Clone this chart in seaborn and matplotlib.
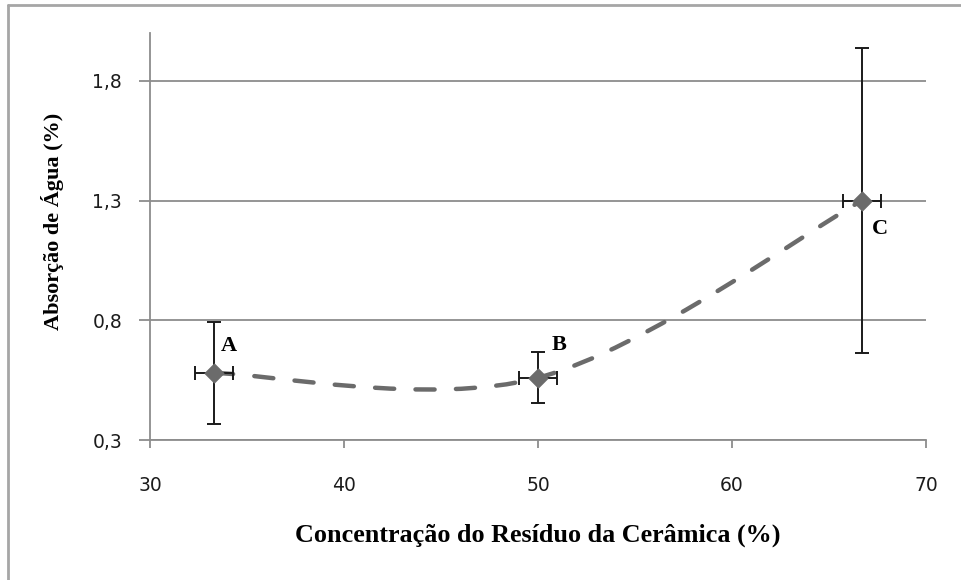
import numpy as np
import pandas as pd
import matplotlib
matplotlib.use("Agg")
import matplotlib.pyplot as plt
import seaborn as sns
from matplotlib.path import Path
from matplotlib.patches import PathPatch
from matplotlib.lines import Line2D

# Dados: absorção de água em função da concentração do resíduo
amostras = ["A", "B", "C"]
concentracao = [33.3, 50.0, 66.7]
absorcao = [0.58, 0.56, 1.30]
erro_absorcao = [0.214, 0.107, 0.636]
erro_concentracao = [1.0, 1.0, 1.0]

x_ticks = [30, 40, 50, 60, 70]
y_ticks = [0.3, 0.8, 1.3, 1.8]
y_tick_labels = ["0,3", "0,8", "1,3", "1,8"]

df = pd.DataFrame({"conc": concentracao, "abs": absorcao, "amostra": amostras})

sns.set_theme(style="white")
plt.rcParams["font.family"] = ["DejaVu Sans"]

GRID = "#8c8c8c"
SERIE = "#6b6b6b"
TEXTO = "#1c1c1c"

fig = plt.figure(figsize=(9.61, 5.80), dpi=100)
ax = fig.add_axes([150 / 961, 1 - 440 / 580, 776 / 961, 407 / 580])


def curva_suave(xs, ys):
    """Curva de Bézier suavizada passando pelos pontos (estilo planilha)."""
    pts = np.column_stack([xs, ys]).astype(float)
    n = len(pts)
    verts = [pts[0]]
    codes = [Path.MOVETO]
    for i in range(n - 1):
        p_ant = pts[i - 1] if i > 0 else pts[i]
        p0, p1 = pts[i], pts[i + 1]
        p_prox = pts[i + 2] if i + 2 < n else p1
        c1 = p0 + (p1 - p_ant) / 6.0
        c2 = p1 - (p_prox - p0) / 6.0
        verts += [c1, c2, p1]
        codes += [Path.CURVE4] * 3
    return Path(verts, codes)


# linha tracejada suavizada
linha = PathPatch(curva_suave(df["conc"], df["abs"]), fill=False,
                  edgecolor=SERIE, lw=3.2, linestyle=(0, (4.3, 4.8)),
                  capstyle="round", zorder=2)
ax.add_patch(linha)

# barras de erro
ax.errorbar(df["conc"], df["abs"], yerr=erro_absorcao, xerr=erro_concentracao,
            fmt="none", ecolor="#1a1a1a", elinewidth=1.4, capsize=5,
            capthick=1.4, zorder=3)

# marcadores
sns.scatterplot(data=df, x="conc", y="abs", marker="D", s=90, color=SERIE,
                edgecolor=SERIE, linewidth=1.0, zorder=4, ax=ax, legend=False)

# rótulos das amostras
offsets = {"A": (10.4, 19.2), "B": (15.3, 23.5), "C": (13.0, -20.4)}
for _, r in df.iterrows():
    ax.annotate(r["amostra"], (r["conc"], r["abs"]), xytext=offsets[r["amostra"]],
                textcoords="offset points", ha="center", va="center",
                fontsize=16, fontweight="bold", family="Liberation Serif",
                color="black", zorder=5)

ax.set_xlim(30, 70)
ax.set_ylim(0.3, 2.0)
ax.set_xticks(x_ticks)
ax.set_xticklabels([str(v) for v in x_ticks])
ax.set_yticks(y_ticks)
ax.set_yticklabels(y_tick_labels)

ax.yaxis.grid(True, color=GRID, lw=1.3)
ax.xaxis.grid(False)
ax.set_axisbelow(True)
for lado in ("top", "right"):
    ax.spines[lado].set_visible(False)
for lado in ("left", "bottom"):
    ax.spines[lado].set_color(GRID)
    ax.spines[lado].set_linewidth(1.3)

ax.tick_params(axis="y", direction="out", length=8, width=1.3, color=GRID,
               pad=12, labelsize=13.5, labelcolor=TEXTO, left=True)
ax.tick_params(axis="x", direction="out", length=6, width=1.3, color=GRID,
               pad=20, labelsize=13.5, labelcolor=TEXTO, bottom=True)

ax.set_xlabel("Concentração do Resíduo da Cerâmica (%)", family="Liberation Serif",
              fontweight="bold", fontsize=18.8, color="black")
ax.set_ylabel("Absorção de Água (%)", family="Liberation Serif",
              fontweight="bold", fontsize=16, color="black")
ax.xaxis.set_label_coords(0.5, -0.233)
ax.xaxis.label.set_va("center")
ax.yaxis.set_label_coords(-0.125, 0.538)
ax.yaxis.label.set_va("center")

# moldura da área do gráfico
fig.add_artist(Line2D([8 / 961, 8 / 961], [0, 1 - 5 / 580], transform=fig.transFigure,
                      color="#a6a6a6", lw=2.0))
fig.add_artist(Line2D([8 / 961, 1], [1 - 5 / 580, 1 - 5 / 580], transform=fig.transFigure,
                      color="#a6a6a6", lw=2.0))

fig.savefig("out.png", dpi=100, facecolor="white")
